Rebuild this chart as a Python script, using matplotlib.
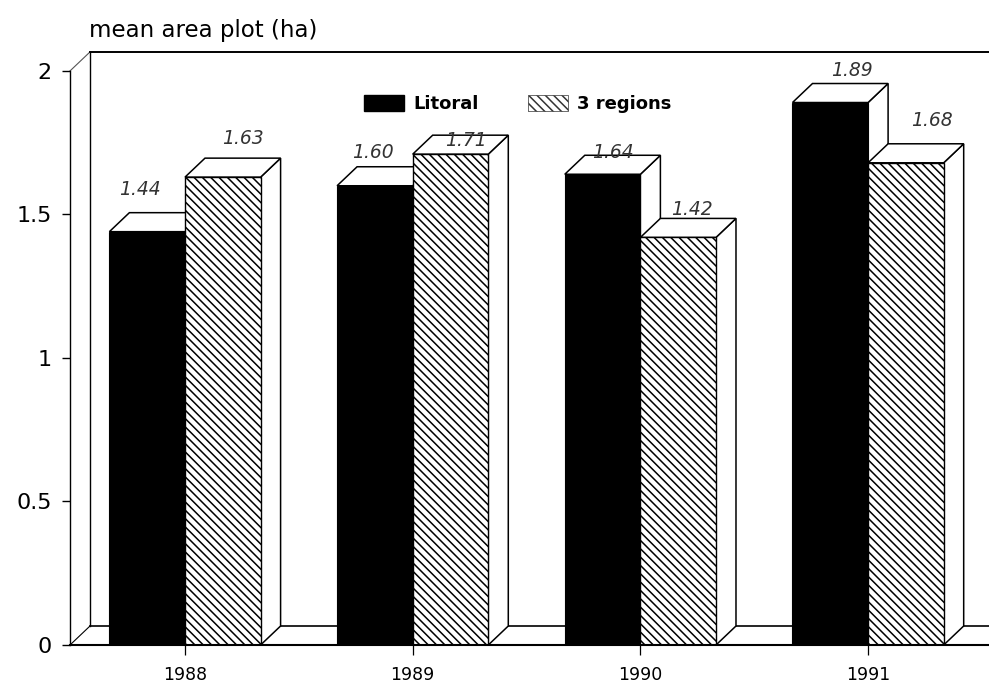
# -*-coding = utf-8-*-
import numpy as np
import matplotlib
matplotlib.use('Agg')
import matplotlib.pyplot as plt
from matplotlib.patches import Patch, Polygon

years = ['1988', '1989', '1990', '1991']
litoral = [1.44, 1.60, 1.64, 1.89]
regions = [1.63, 1.71, 1.42, 1.68]
y_ticks = [0, 0.5, 1, 1.5, 2]
y_labels = ['0', '0.5', '1', '1.5', '2']

# label offsets from the bar top centre, in pixels
litoral_off = [(-7, 42), (-2, 33), (10, 22), (22, 32)]
regions_off = [(20, 39), (15, 14), (14, 28), (26, 42)]

plt.rcParams['font.family'] = ['DejaVu Sans']
plt.rcParams['hatch.linewidth'] = 1.1

W, H = 989, 686
fig = plt.figure(figsize=(W / 100, H / 100), dpi=100)
# axes box in pixels: left 70, bottom line at 645, top at 52
ax = fig.add_axes([70 / W, 1 - 645 / H, (W - 70) / W, (645 - 52) / H])
ax.set_xlim(-0.505, 3.531)
ax.set_ylim(0, 2.066)

bw = 0.332
dx = 20 / 227.67   # 3d depth
dy = 19 / 287.0
hatch = '\\\\\\\\'


def bar3d(x0, val, **kw):
    x1 = x0 + bw
    side = [(x1, 0), (x1 + dx, dy), (x1 + dx, val + dy), (x1, val)]
    top = [(x0, val), (x0 + dx, val + dy), (x1 + dx, val + dy), (x1, val)]
    ax.add_patch(Polygon(side, fc='white', ec='black', lw=1.1, zorder=bar3d.z))
    ax.add_patch(Polygon(top, fc='white', ec='black', lw=1.1, zorder=bar3d.z))
    ax.bar(x0, val, bw, align='edge', zorder=bar3d.z + 0.5, **kw)
    bar3d.z += 1


bar3d.z = 5
for i in range(len(years)):
    bar3d(i - bw, litoral[i], color='black', edgecolor='black', linewidth=0.8)
    bar3d(i, regions[i], facecolor='white', edgecolor='black', hatch=hatch, linewidth=1.0)
    ax.annotate('%.2f' % litoral[i], (i - bw / 2, litoral[i]), xytext=litoral_off[i],
                textcoords='offset pixels', ha='center', va='center', style='italic',
                fontsize=13.5, color='#333333', zorder=40)
    ax.annotate('%.2f' % regions[i], (i + bw / 2, regions[i]), xytext=regions_off[i],
                textcoords='offset pixels', ha='center', va='center', style='italic',
                fontsize=13.5, color='#333333', zorder=40)

# back wall and floor
xl, xr = ax.get_xlim()
ax.plot([xl + dx, xr], [dy, dy], color='black', lw=1.2, zorder=1, clip_on=False)
ax.plot([xl + dx, xl + dx], [dy, 2.066], color='black', lw=1.0, zorder=1)
ax.plot([xl, xl + dx], [0, dy], color='black', lw=0.8, zorder=1)
ax.plot([xl, xl + dx], [2, 2 + dy], color='#555555', lw=0.8, zorder=1, clip_on=False)

for s in ['right', 'bottom', 'left']:
    ax.spines[s].set_visible(False)
ax.spines['top'].set_bounds(xl + dx, xr)
ax.spines['top'].set_linewidth(1.4)
ax.plot([xl, xr], [0, 0], color='black', lw=1.5, zorder=30, clip_on=False)
ax.plot([xl, xl], [0, 2], color='black', lw=1.0, zorder=30, clip_on=False)

ax.set_yticks(y_ticks)
ax.set_yticklabels(y_labels, fontsize=16)
ax.set_xticks(range(len(years)))
ax.set_xticklabels(years, fontsize=12.5, fontweight='medium')
ax.tick_params(axis='y', length=6, width=1.0, pad=7)
ax.tick_params(axis='x', length=7, width=0.9, pad=8)

fig.text(89 / W, 1 - 30 / H, 'mean area plot (ha)', fontsize=16.5, va='center', ha='left')

handles = [Patch(facecolor='black', edgecolor='black'),
           Patch(facecolor='white', edgecolor='#333333', hatch=hatch, linewidth=0.5)]
ax.legend(handles, ['Litoral', '3 regions'], ncol=2, frameon=False, prop={'size': 13, 'weight': 'bold'},
          loc='center left', bbox_to_anchor=(294 / 919, 1 - (104 - 52) / 593),
          handlelength=2.2, handleheight=1.0, handletextpad=0.55, columnspacing=2.7,
          borderpad=0, borderaxespad=0).set_zorder(50)

fig.savefig('out.png', dpi=100)
